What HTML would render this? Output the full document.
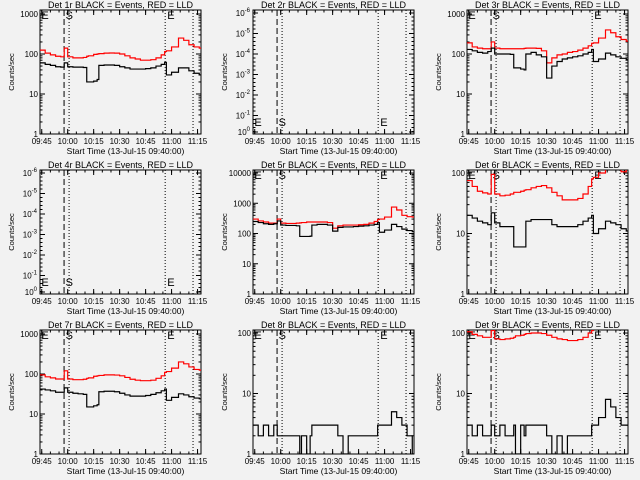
<!DOCTYPE html>
<html><head><meta charset="utf-8"><style>
html,body{margin:0;padding:0;background:#f2f2f2;}
svg{display:block;font-family:"Liberation Sans",sans-serif;}
</style></head><body>
<svg id="chart" width="640" height="480" viewBox="0 0 640 480" xmlns="http://www.w3.org/2000/svg">
<rect width="640" height="480" fill="#f2f2f2"/>
</svg>
<script>
const times = [4,7,10,13,16,18,20,23,26,29,31,32,35,37,38,41,44,47,50,53,56,59,62,65,68,71,74,76,77,80,84,87,90,93,96];
const tickLabels = ["09:45","10:00","10:15","10:30","10:45","11:00","11:15"];
const tickTimes = [5,20,35,50,65,80,95];
const markerTimes = [17.9,20.8,76.3,92.4];
const red1=[125,105,95,88,85,140,85,80,80,82,88,90,98,100,102,105,106,105,100,90,80,75,70,70,72,80,95,115,120,150,250,220,170,150,140];
const black1=[60,55,52,48,47,60,48,47,47,46,20,20,21,23,52,53,53,52,48,45,42,42,42,43,45,50,55,62,30,35,45,45,38,33,30];
const red3=[190,150,140,135,135,200,140,135,135,135,135,135,135,138,140,140,138,120,60,80,95,100,110,115,125,140,160,185,190,250,400,340,270,230,210];
const black3=[130,120,110,105,115,140,100,100,100,98,45,45,42,40,100,110,95,85,25,50,65,75,80,85,90,100,110,130,65,75,105,95,85,78,72];
const red5=[300,260,240,220,220,300,220,215,215,220,225,230,240,240,240,240,240,230,150,180,190,190,190,195,200,220,250,290,300,350,750,600,400,360,350];
const black5=[250,230,210,200,210,260,190,185,185,180,80,80,80,82,190,200,200,190,120,160,165,165,170,175,180,190,200,230,110,130,200,170,140,125,115];
const red6=[75,60,50,47,45,95,45,42,43,45,48,48,50,52,53,57,60,62,57,48,42,36,36,36,38,45,60,80,85,100,130,130,120,105,120];
const black6=[20,18,16,15,14,22,15,13,13,13,6,6,6,6,16,17,17,17,17,14,13,13,13,13,14,16,18,20,10,12,16,15,14,12,11];
const red7=[95,85,80,75,75,120,75,72,72,74,78,80,88,90,92,95,95,94,90,82,74,70,68,68,70,78,90,110,115,140,200,180,150,130,125];
const black7=[42,40,38,35,35,45,35,33,32,31,15,15,16,17,36,37,37,36,33,30,28,28,28,29,31,34,38,42,22,26,32,30,27,25,24];
const black8=[3,2,3,2,3,2,2,2,2,2,1,2,1,2,3,3,3,3,3,2,1,2,2,2,2,2,2,3,3,3,5,4,3,2,1];
const red9=[105,95,90,85,85,110,80,78,80,82,85,90,92,95,98,100,100,98,92,85,80,78,75,75,78,85,100,110,115,130,150,150,140,130,125];
const black9=[3,2,3,2,2,3,2,3,2,2,3,1,3,2,3,3,3,3,2,1,2,1,2,2,2,2,2,3,3,4,8,6,4,3,3];

const NS="http://www.w3.org/2000/svg";
const svg=document.getElementById('chart');
function mk(tag,attrs,parent){const e=document.createElementNS(NS,tag);for(const k in attrs)e.setAttribute(k,attrs[k]);(parent||svg).appendChild(e);return e;}

const panels=[
 {n:1,col:0,row:0,top:3.1,decLabels:["1","10","100","1000"],red:red1,black:black1,mk:"top"},
 {n:2,col:1,row:0,empty:true,mk:"bottom"},
 {n:3,col:2,row:0,top:3.1,decLabels:["1","10","100","1000"],red:red3,black:black3,mk:"top"},
 {n:4,col:0,row:1,empty:true,mk:"bottom"},
 {n:5,col:1,row:1,top:4.1,decLabels:["1","10","100","1000","10000"],red:red5,black:black5,mk:"top"},
 {n:6,col:2,row:1,top:2.05,decLabels:["1","10","100"],red:red6,black:black6,mk:"top"},
 {n:7,col:0,row:2,top:3.1,decLabels:["1","10","100","1000"],red:red7,black:black7,mk:"top"},
 {n:8,col:1,row:2,top:2.05,decLabels:["1","10","100"],red:null,black:black8,mk:"top"},
 {n:9,col:2,row:2,top:2.05,decLabels:["1","10","100"],red:red9,black:black9,mk:"top"}
];

panels.forEach(p=>{
 const ox=Math.round(p.col*213.33), oy=p.row*160;
 const L=ox+40,R=ox+201,T=oy+10,B=oy+134;
 const g=mk('g',{});
 
 
 const xs=t=>L+(t-4)*(R-L)/93;
 const ys=v=>B-(Math.log10(v))/p.top*(B-T);
 const cid='clip'+p.n;
 const cp=mk('clipPath',{id:cid},g);mk('rect',{x:L,y:T,width:R-L,height:B-T},cp);
 const tt=mk('text',{x:(L+R)/2,y:oy+8,'text-anchor':'middle','font-size':'9',fill:'#000'},g);
 tt.textContent='Det '+p.n+'r BLACK = Events, RED = LLD';
 
 
 const fr=mk('rect',{x:L,y:T,width:R-L,height:B-T,fill:'none',stroke:'#000','stroke-width':1},g);
 
 
 tickTimes.forEach((t,i)=>{
  const x=xs(t);
  mk('line',{x1:x,x2:x,y1:B,y2:B-5,stroke:'#000'},g);
  mk('line',{x1:x,x2:x,y1:T,y2:T+5,stroke:'#000'},g);
  const lb=mk('text',{x:x,y:B+10,'text-anchor':'middle','font-size':'8',fill:'#000'},g);
  lb.textContent=tickLabels[i];
  
  
 });
 for(let t=5;t<=95;t+=5){const x=xs(t);mk('line',{x1:x,x2:x,y1:B,y2:B-2.5,stroke:'#000'},g);mk('line',{x1:x,x2:x,y1:T,y2:T+2.5,stroke:'#000'},g);}
 const xt=mk('text',{x:(L+R)/2+5,y:B+20,'text-anchor':'middle','font-size':'8.5',fill:'#000'},g);
 xt.textContent='Start Time (13-Jul-15 09:40:00)';
 
 
 const yt=mk('text',{x:0,y:0,'text-anchor':'middle','font-size':'7.5',fill:'#000',transform:`translate(${ox+14},${(T+B)/2}) rotate(-90)`},g);
 yt.textContent='Counts/sec';
 
 
 if(p.empty){
  const labs=["-6","-5","-4","-3","-2","-1"];
  for(let i=0;i<7;i++){
   const y=i<6?T+3+i*20.5:B-2;
   mk('line',{x1:L,x2:L+5,y1:y,y2:y,stroke:'#000'},g);mk('line',{x1:R,x2:R-5,y1:y,y2:y,stroke:'#000'},g);
   for(let k=1;k<5;k++){const yy=y+k*4;if(yy<B){mk('line',{x1:L,x2:L+2.5,y1:yy,y2:yy,stroke:'#000'},g);mk('line',{x1:R,x2:R-2.5,y1:yy,y2:yy,stroke:'#000'},g);}}
   const tx=mk('text',{x:L-3,y:y+3,'text-anchor':'end','font-size':'8',fill:'#000'},g);
   
   
   const a=mk('tspan',{},tx);a.textContent='10';
   const b=mk('tspan',{dy:'-4','font-size':'6'},tx);b.textContent=i<6?labs[i]:'0';
  }
 } else {
  p.decLabels.forEach((lab,d)=>{
   const y=ys(Math.pow(10,d));
   mk('line',{x1:L,x2:L+5,y1:y,y2:y,stroke:'#000'},g);mk('line',{x1:R,x2:R-5,y1:y,y2:y,stroke:'#000'},g);
   const tx=mk('text',{x:L-2,y:y+3,'text-anchor':'end','font-size':'8',fill:'#000'},g);
   tx.textContent=lab;
   
   
   for(let m=2;m<10;m++){const yy=ys(m*Math.pow(10,d));if(yy>=T){mk('line',{x1:L,x2:L+2.5,y1:yy,y2:yy,stroke:'#000'},g);mk('line',{x1:R,x2:R-2.5,y1:yy,y2:yy,stroke:'#000'},g);}}
  });
 }
 markerTimes.forEach((t,i)=>{
  const x=xs(t);
  const ln=mk('line',{x1:x,x2:x,y1:T,y2:B,stroke:'#000','stroke-width':1,'stroke-dasharray':i==0?'6,3':'1,2'},g);
  
  
 });
 const my=p.mk=='top'?T+9:B-8;
 [[4.8,'E'],[18.8,'S'],[77.5,'E']].forEach(([t,s])=>{
  const e=mk('text',{x:xs(t),y:my,'font-size':'11',fill:'#000'},g);
  e.textContent=s;
  
  
 });
 const dg=mk('g',{'clip-path':`url(#${cid})`},g);
 function series(vals,color,name){
  let d='';
  vals.forEach((v,i)=>{const x=xs(times[i]),y=ys(v);if(i==0)d+=`M${x},${y}`;else d+=`H${x}V${y}`;});
  d+=`H${xs(times[times.length-1]+1)}`;
  const pth=mk('path',{d:d,fill:'none',stroke:color,'stroke-width':1.2},dg);
  
  
 }
 if(p.red)series(p.red,'#ff0000','lld-series-red');
 if(p.black)series(p.black,'#000','events-series-black');
});
</script>
</body></html>
